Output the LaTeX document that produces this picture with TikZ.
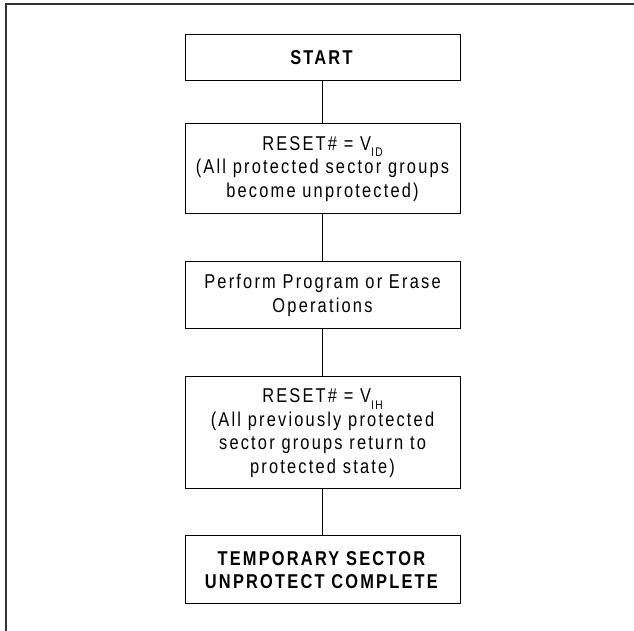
\documentclass[tikz,border=0pt]{standalone}
\usepackage{fontspec}
\setmainfont{Liberation Sans}[LetterSpace=11,FakeStretch=0.82]
\begin{document}
\begin{tikzpicture}[x=1pt,y=1pt,
  stepbox/.style={draw=black, line width=1pt, minimum width=275pt, inner sep=0pt,
    align=center, font=\fontsize{20}{23.5}\selectfont},
  link/.style={line width=1.6pt, black},
  frame/.style={line width=1.6pt, black!80}]
\useasboundingbox (0,0) rectangle (634,631);
\newcommand{\sbx}[1]{\raisebox{-6.5pt}{\fontsize{12.5}{12.5}\selectfont #1}}
\draw[frame] (6,0) -- (6,627) -- (634,627);
\node[stepbox, minimum height=46pt] (start) at (322.5,573) {\textbf{START}};
\node[stepbox, minimum height=90pt] (reset1) at (322.5,462)
  {RESET\# = V\sbx{ID}\\(All protected sector groups\\become unprotected)};
\node[stepbox, minimum height=67pt] (perform) at (322.5,335.5)
  {Perform Program or Erase\\Operations};
\node[stepbox, minimum height=112pt] (reset2) at (322.5,198)
  {RESET\# = V\sbx{IH}\\(All previously protected\\sector groups return to\\protected state)};
\node[stepbox, minimum height=68pt] (done) at (322.5,61)
  {\textbf{TEMPORARY SECTOR}\\\textbf{UNPROTECT COMPLETE}};
\draw[link] (start) -- (reset1);
\draw[link] (reset1) -- (perform);
\draw[link] (perform) -- (reset2);
\draw[link] (reset2) -- (done);
\end{tikzpicture}
\end{document}
